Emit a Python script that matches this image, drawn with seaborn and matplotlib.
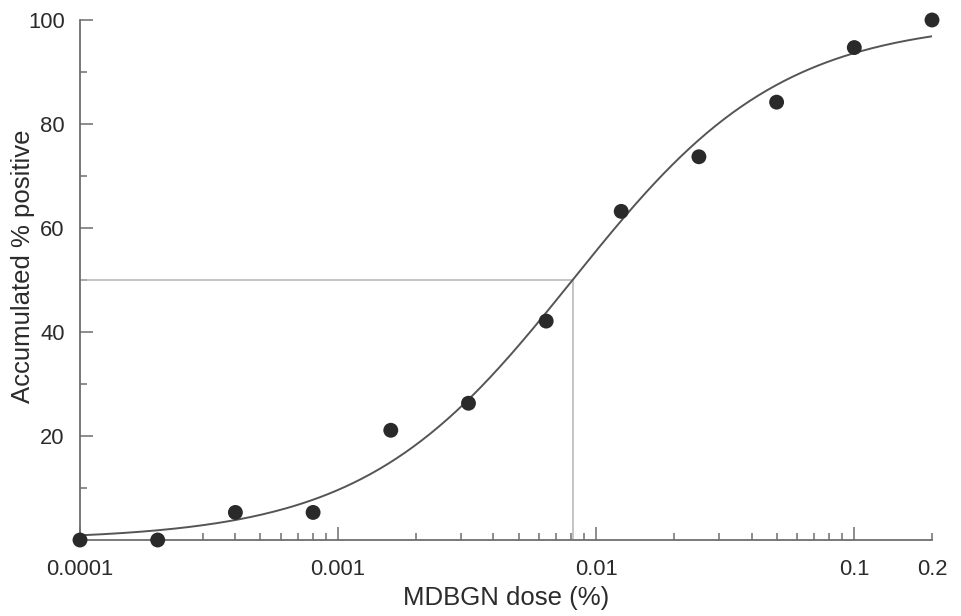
import numpy as np
import pandas as pd
import matplotlib
matplotlib.use("Agg")
import matplotlib.pyplot as plt
import matplotlib.ticker as mticker
import matplotlib.transforms as mtrans
import seaborn as sns

# Data
dose = [0.0001, 0.0002, 0.0004, 0.0008, 0.0016, 0.0032, 0.0064, 0.0125, 0.025, 0.05, 0.1, 0.2]
pct_positive = [0.0, 0.0, 5.3, 5.3, 21.1, 26.3, 42.1, 63.2, 73.7, 84.2, 94.7, 100.0]

# Fitted dose-response curve parameters
ed50 = 0.0081
hill = 1.07

x_major_values = [0.0001, 0.001, 0.01, 0.1]
x_major_labels = ["0.0001", "0.001", "0.01", "0.1"]
x_end_label = "0.2"
y_tick_values = [20, 40, 60, 80, 100]
y_tick_labels = ["20", "40", "60", "80", "100"]
y_minor_values = [10, 30, 50, 70, 90]

FS_TICK = 15.8
FS_LAB = 18.5
TXT = "#2b2b2b"
AX = "#6e6e6e"

sns.set_style("white")
plt.rcParams["font.family"] = ["Liberation Sans", "DejaVu Sans"]

fig = plt.figure(figsize=(9.62, 6.16), dpi=100)
ax = fig.add_axes([80 / 962, 1 - 540 / 616, (932 - 80) / 962, (540 - 20) / 616])

df_pts = pd.DataFrame({"dose": dose, "pct": pct_positive})
xs = np.logspace(np.log10(dose[0]), np.log10(dose[-1]), 300)
fit = 100.0 / (1.0 + (ed50 / xs) ** hill)
df_fit = pd.DataFrame({"dose": xs, "pct": fit})

ax.set_xscale("log")
ax.set_xlim(dose[0], dose[-1])
ax.set_ylim(0, 100)

# reference lines at ED50
ax.plot([dose[0], ed50], [50, 50], color="#b4b4b4", lw=1.1, zorder=1)
ax.plot([ed50, ed50], [0, 50], color="#b4b4b4", lw=1.1, zorder=1)

sns.lineplot(data=df_fit, x="dose", y="pct", ax=ax, color="#555555", lw=1.4, zorder=2)
sns.scatterplot(data=df_pts, x="dose", y="pct", ax=ax, color="#2a2a2a", s=115,
                edgecolor="none", zorder=3, clip_on=False)

for s in ["top", "right"]:
    ax.spines[s].set_visible(False)
for s in ["left", "bottom"]:
    ax.spines[s].set_color(AX)
    ax.spines[s].set_linewidth(1.3)

ax.xaxis.set_major_locator(mticker.FixedLocator(x_major_values))
ax.xaxis.set_major_formatter(mticker.FixedFormatter(x_major_labels))
ax.xaxis.set_minor_locator(mticker.LogLocator(base=10, subs=np.arange(2, 10), numticks=20))
ax.xaxis.set_minor_formatter(mticker.NullFormatter())

ax.set_yticks(y_tick_values)
ax.set_yticklabels(y_tick_labels)
ax.yaxis.set_minor_locator(mticker.FixedLocator(y_minor_values))

ax.tick_params(axis="both", which="both", bottom=True, left=True, top=False, right=False)
ax.tick_params(axis="both", which="major", direction="in", length=9.5, width=1.1,
               color=AX, labelsize=FS_TICK, labelcolor=TXT)
ax.tick_params(axis="both", which="minor", direction="in", length=5, width=1.1, color=AX)
ax.tick_params(axis="x", which="major", pad=14)
ax.tick_params(axis="y", which="major", pad=11)

# label at the right end of the axis (0.2)
ax.text(dose[-1], 0, x_end_label, ha="center", va="top", fontsize=FS_TICK, color=TXT,
        transform=mtrans.offset_copy(ax.get_xaxis_transform(), fig=fig, y=-14, units="points"))

ax.set_xlabel("MDBGN dose (%)", fontsize=FS_LAB, color=TXT)
ax.xaxis.set_label_coords(0.5, (540 - 598) / 520)
ax.xaxis.label.set_va("center")
ax.set_ylabel("Accumulated % positive", fontsize=FS_LAB, color=TXT)
ax.yaxis.set_label_coords((23 - 80) / 852, (540 - 266) / 520)
ax.yaxis.label.set_va("center")

fig.savefig("out.png", dpi=100)
